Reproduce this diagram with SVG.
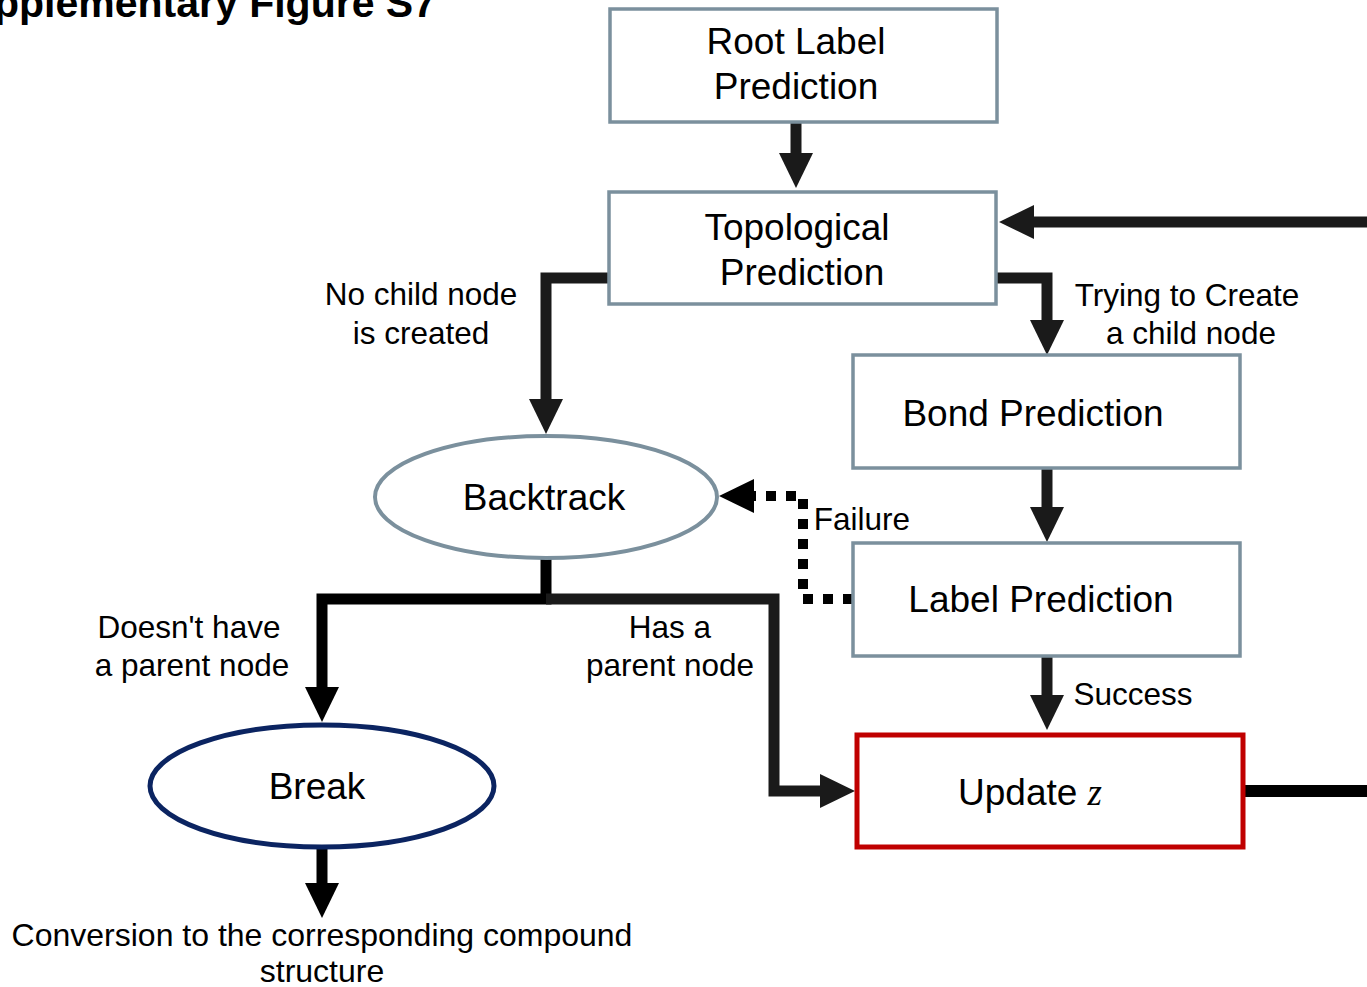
<svg xmlns="http://www.w3.org/2000/svg" width="1367" height="987" viewBox="0 0 1367 987">
<style>
.box{fill:#fff;stroke:#7b909d;stroke-width:3.5}
.ell{fill:#fff;stroke:#7b909d;stroke-width:4}
.t{font-family:"Liberation Sans",Arial,sans-serif;font-size:37px;fill:#000;text-anchor:middle}
.lb{font-family:"Liberation Sans",Arial,sans-serif;font-size:31.5px;fill:#000;text-anchor:middle}
.c{fill:none;stroke:#1a1a1a;stroke-width:11;stroke-linejoin:miter}
.d{fill:none;stroke:#000;stroke-width:10;stroke-dasharray:10 10}
</style>
<defs>
<marker id="ah" markerUnits="userSpaceOnUse" markerWidth="36" markerHeight="36" viewBox="0 -18 36 36" refX="1" refY="0" orient="auto">
<path d="M0,-17 L35,0 L0,17 z" fill="#1a1a1a"/>
</marker>
<marker id="ahk" markerUnits="userSpaceOnUse" markerWidth="36" markerHeight="36" viewBox="0 -18 36 36" refX="1" refY="0" orient="auto">
<path d="M0,-17 L35,0 L0,17 z" fill="#000"/>
</marker>
</defs>
<text x="436" y="17" font-family="'Liberation Sans',Arial,sans-serif" font-size="41" font-weight="bold" text-anchor="end">Supplementary Figure S7</text>
<g id="connectors">
<path class="c" d="M796,122 V154" marker-end="url(#ah)"/>
<path class="c" d="M1367,222 H1033" marker-end="url(#ah)"/>
<path class="c" d="M609,278 H546 V400" marker-end="url(#ah)"/>
<path class="c" d="M996,278 H1047 V321" marker-end="url(#ah)"/>
<path class="c" d="M1047,468 V508" marker-end="url(#ah)"/>
<path class="d" d="M853,599 H803 V496 H753" marker-end="url(#ahk)"/>
<path class="c" d="M546,558 V599 H322 V688" style="stroke:#000" marker-end="url(#ahk)"/>
<path class="c" d="M546,599 H774 V791 H821" marker-end="url(#ah)"/>
<path class="c" d="M322,848 V884" style="stroke:#000" marker-end="url(#ahk)"/>
<path class="c" d="M1047,656 V696" marker-end="url(#ah)"/>
<path class="c" d="M1245,791 H1367" style="stroke:#000;stroke-width:12"/>
</g>
<g id="root"><rect class="box" x="610" y="9" width="387" height="113"/><text class="t" x="796" y="54">Root Label</text><text class="t" x="796" y="99">Prediction</text></g>
<g id="topo"><rect class="box" x="609" y="192" width="387" height="112"/><text class="t" x="797" y="240">Topological</text><text class="t" x="802" y="285">Prediction</text></g>
<g id="bond"><rect class="box" x="853" y="355" width="387" height="113"/><text class="t" x="1033" y="426">Bond Prediction</text></g>
<g id="label"><rect class="box" x="853" y="543" width="387" height="113"/><text class="t" x="1041" y="612">Label Prediction</text></g>
<g id="backtrack"><ellipse class="ell" cx="546" cy="497" rx="171" ry="61"/><text class="t" x="544" y="510">Backtrack</text></g>
<g id="break"><ellipse cx="322" cy="786" rx="172" ry="61" fill="#fff" stroke="#0b2461" stroke-width="5"/><text class="t" x="317" y="799">Break</text></g>
<g id="update"><rect x="857" y="735" width="386" height="112" fill="#fff" stroke="#c00000" stroke-width="5"/><text class="t" x="1030" y="805">Update <tspan font-family="'Liberation Serif','Times New Roman',serif" font-style="italic">z</tspan></text></g>
<g id="labels">
<text class="lb" x="421" y="305">No child node</text>
<text class="lb" x="421" y="344">is created</text>
<text class="lb" x="1187" y="306">Trying to Create</text>
<text class="lb" x="1191" y="344">a child node</text>
<text class="lb" x="862" y="530">Failure</text>
<text class="lb" x="189" y="638">Doesn't have</text>
<text class="lb" x="192" y="676">a parent node</text>
<text class="lb" x="670" y="638">Has a</text>
<text class="lb" x="670" y="676">parent node</text>
<text class="lb" x="1133" y="705">Success</text>
<text class="lb" x="322" y="946" style="font-size:32px">Conversion to the corresponding compound</text>
<text class="lb" x="322" y="982" style="font-size:32px">structure</text>
</g>
</svg>
